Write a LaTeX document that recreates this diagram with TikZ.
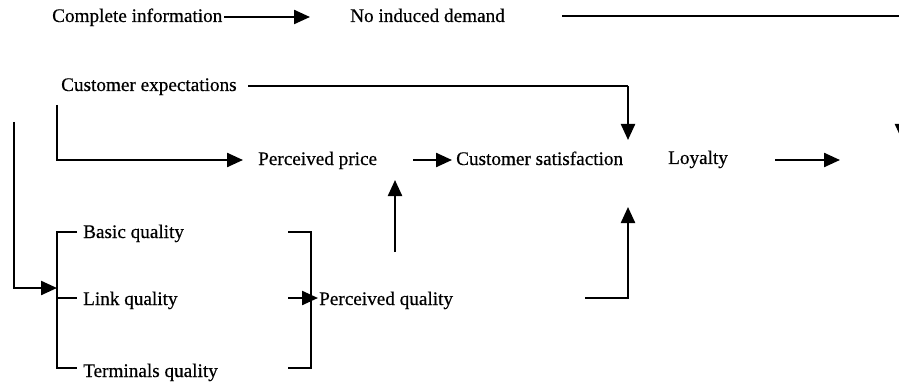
\documentclass[tikz,border=0pt]{standalone}
\usepackage{fontspec}
\setmainfont{Liberation Serif}
\newfontfamily\hvfont[FakeBold=0.5]{Liberation Serif}
\usetikzlibrary{arrows.meta}
\begin{document}
\begin{tikzpicture}[x=1pt,y=-1pt,
  lbl/.style={anchor=base west,inner sep=0pt,font=\hvfont\fontsize{19.2}{21}\selectfont},
  ln/.style={line width=2.3pt},
  arr/.style={ln,-{Triangle[length=16pt,width=14pt]}}]
\useasboundingbox (0,0) rectangle (899,385);
\clip (0,0) rectangle (899,385);
% nodes
\node[lbl] (ci) at (52,22) {Complete information};
\node[lbl] (nid) at (350,22) {No induced demand};
\node[lbl] (ce) at (61,91) {Customer expectations};
\node[lbl] (pp) at (258,165) {Perceived price};
\node[lbl] (cs) at (456,165) {Customer satisfaction};
\node[lbl] (loy) at (668,164) {Loyalty};
\node[lbl] (bq) at (83,238) {Basic quality};
\node[lbl] (lq) at (83,305) {Link quality};
\node[lbl] (tq) at (83,377) {Terminals quality};
\node[lbl] (pq) at (319,305) {Perceived quality};
% coordinates
\coordinate (ciA) at (224,17);
\coordinate (ciEnd) at (310,17);
\coordinate (nidA) at (562,16);
\coordinate (nidB) at (902,16);
\coordinate (nidEnd) at (902,140);
\coordinate (ceA) at (248,86);
\coordinate (ceB) at (628,86);
\coordinate (ceEnd) at (628,140);
\coordinate (ceC) at (57,105);
\coordinate (ceD) at (57,160);
\coordinate (ppEnd) at (243,160);
\coordinate (ppA) at (413,160);
\coordinate (csEnd) at (452,160);
\coordinate (loyA) at (775,160);
\coordinate (loyEnd) at (840,160);
\coordinate (lpA) at (14,122);
\coordinate (lpB) at (14,288);
\coordinate (lpEnd) at (57,288);
\coordinate (bkLT) at (57,232);
\coordinate (bkLB) at (57,368);
\coordinate (bkLM) at (57,298);
\coordinate (bkRT) at (311,232);
\coordinate (bkRB) at (311,368);
\coordinate (pqA) at (288,298);
\coordinate (pqEnd) at (318,298);
\coordinate (upA) at (395,252);
\coordinate (upEnd) at (395,180);
\coordinate (rA) at (585,298);
\coordinate (rB) at (628,298);
\coordinate (rEnd) at (628,207);
% connectors
\draw[arr] (ciA) -- (ciEnd);
\draw[ln] (nidA) -- (nidB);
\draw[arr] (nidB) -- (nidEnd);
\draw[ln] (ceA) -- (ceB);
\draw[arr] (ceB) -- (ceEnd);
\draw[arr] (ceC) -- (ceD) -- (ppEnd);
\draw[arr] (ppA) -- (csEnd);
\draw[arr] (loyA) -- (loyEnd);
\draw[arr] (lpA) -- (lpB) -- (lpEnd);
% left bracket
\draw[ln] (77,232) -- (bkLT) -- (bkLB) -- (77,368);
\draw[ln] (bkLM) -- (77,298);
% right bracket
\draw[ln] (288,232) -- (bkRT) -- (bkRB) -- (288,368);
\draw[arr] (pqA) -- (pqEnd);
\draw[arr] (upA) -- (upEnd);
\draw[arr] (rA) -- (rB) -- (rEnd);
\end{tikzpicture}
\end{document}
